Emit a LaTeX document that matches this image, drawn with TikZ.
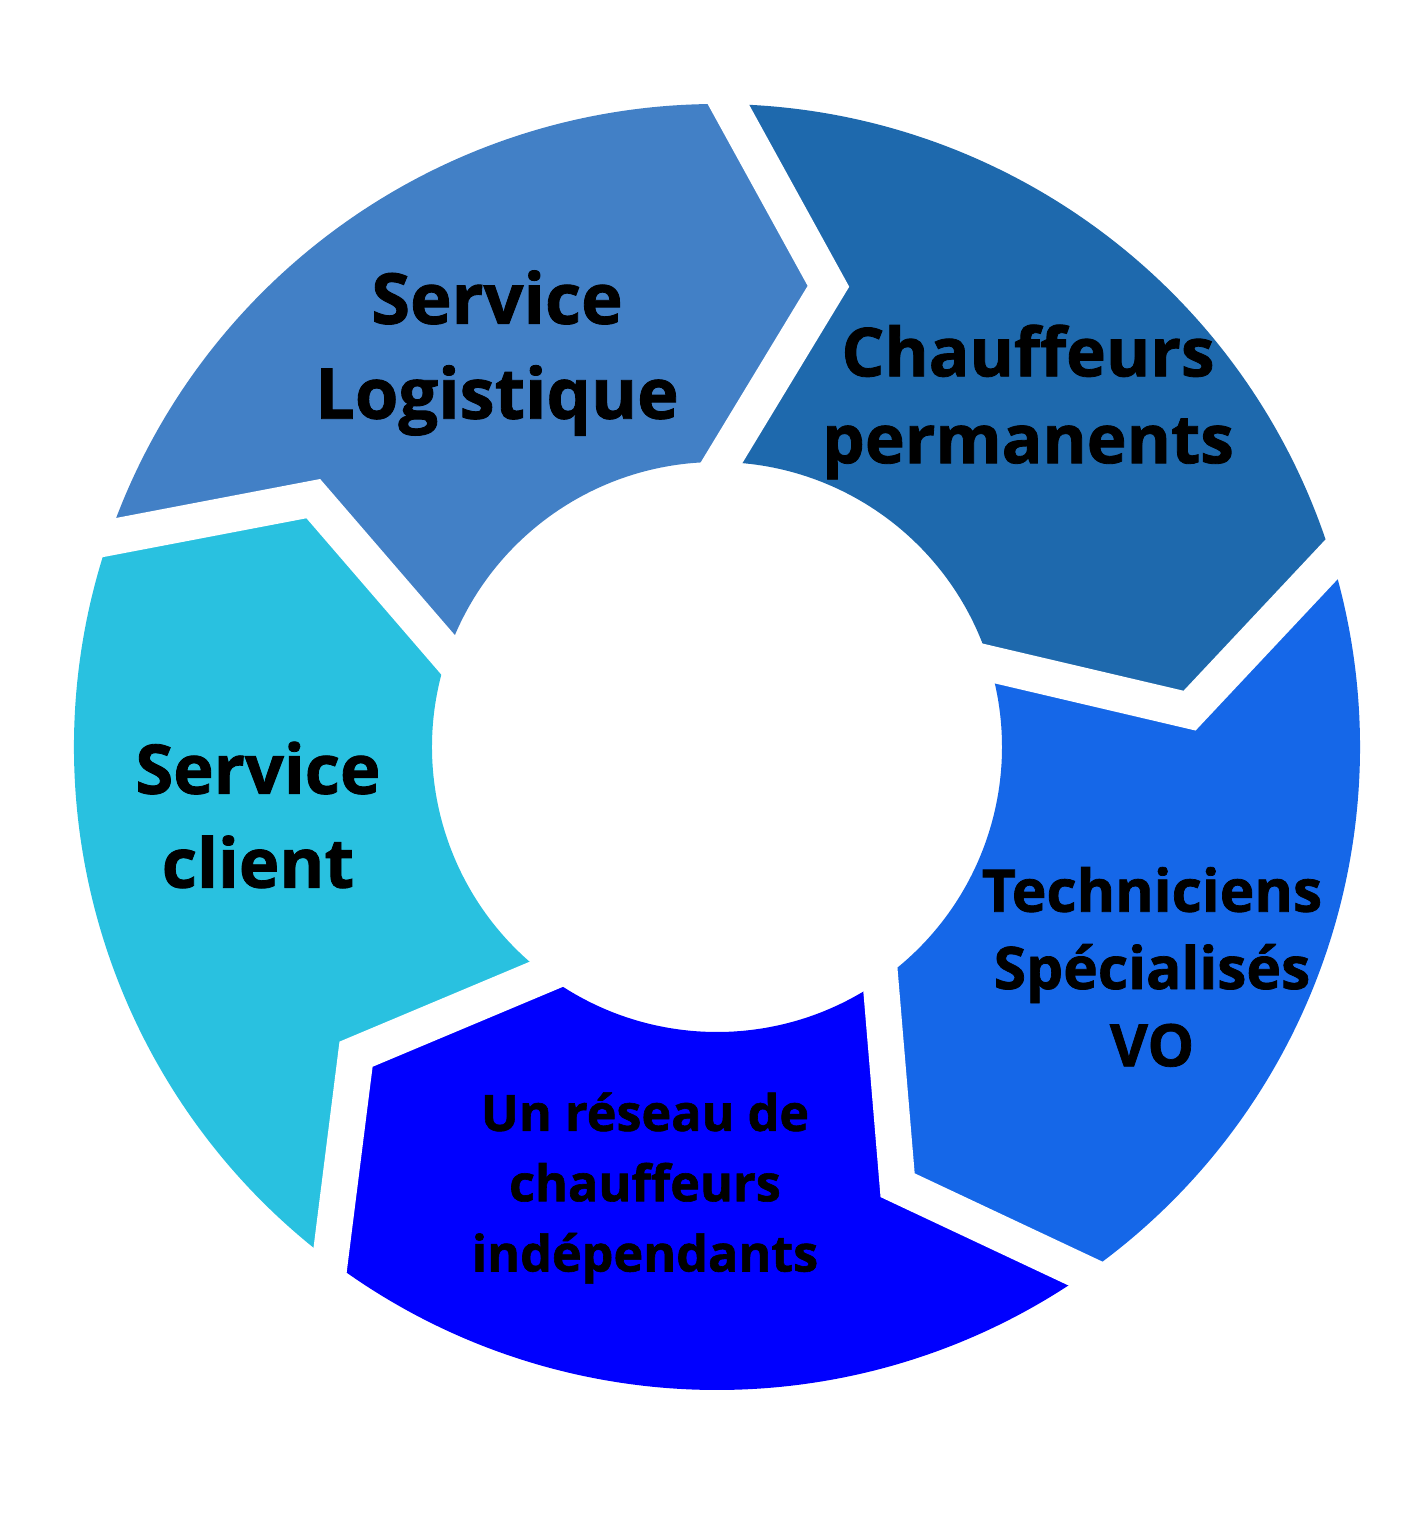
\documentclass[tikz,border=0pt]{standalone}
\usepackage{fontspec}
\setmainfont{Open Sans}[BoldFeatures={FakeBold=1.2}]
\usetikzlibrary{calc}

\definecolor{logcol}{RGB}{66,128,198}
\definecolor{chauffcol}{RGB}{30,105,173}
\definecolor{techcol}{RGB}{21,103,232}
\definecolor{reseaucol}{RGB}{0,0,255}
\definecolor{clientcol}{RGB}{41,193,224}

\begin{document}
\begin{tikzpicture}[
    gap/.style={draw=white, line width=0.36cm, line join=miter},
    lbl/.style={align=center, font=\bfseries, text=black, inner sep=0pt}
]
\useasboundingbox (0,0) rectangle (14.14,15.14);
\coordinate (c) at (7.17,7.67);

% ring segments: start angle / end angle / colour
\foreach \s/\e/\col in {89/17/chauffcol, 17/-55/techcol, -55/-127/reseaucol, -127/-199/clientcol, 161/89/logcol}{
  \fill[\col] ($(c)+(\s:6.43)$) arc[start angle=\s, end angle=\e, radius=6.43]
    -- ($(c)+({\e-12.6}:4.74)$) -- ($(c)+(\e:2.85)$)
    arc[start angle=\e, end angle=\s, radius=2.85]
    -- ($(c)+({\s-12.6}:4.74)$) -- cycle;
}
% white gaps between the arrows
\foreach \b in {89,17,-55,-127,161}{
  \coordinate (o) at ($(c)+(\b:6.43)$);
  \coordinate (t) at ($(c)+({\b-12.6}:4.74)$);
  \coordinate (i) at ($(c)+(\b:2.85)$);
  \draw[gap] ($(t)!1.15!(o)$) -- (t) -- ($(t)!1.3!(i)$);
}

\node[lbl, font=\bfseries\fontsize{20}{27}\selectfont] (log) at (4.97,11.61) {Service\\Logistique};
\node[lbl, font=\bfseries\fontsize{19.2}{24.7}\selectfont] (chauff) at (10.28,11.12) {Chauffeurs\\permanents};
\node[lbl, font=\bfseries\fontsize{16.7}{22}\selectfont] (tech) at (11.52,5.47) {Techniciens\\Spécialisés\\VO};
\node[lbl, font=\bfseries\fontsize{14.3}{20}\selectfont] (reseau) at (6.45,3.26) {Un réseau de\\chauffeurs\\indépendants};
\node[lbl, font=\bfseries\fontsize{19.5}{26.7}\selectfont] (client) at (2.58,6.99) {Service\\client};
\end{tikzpicture}
\end{document}
